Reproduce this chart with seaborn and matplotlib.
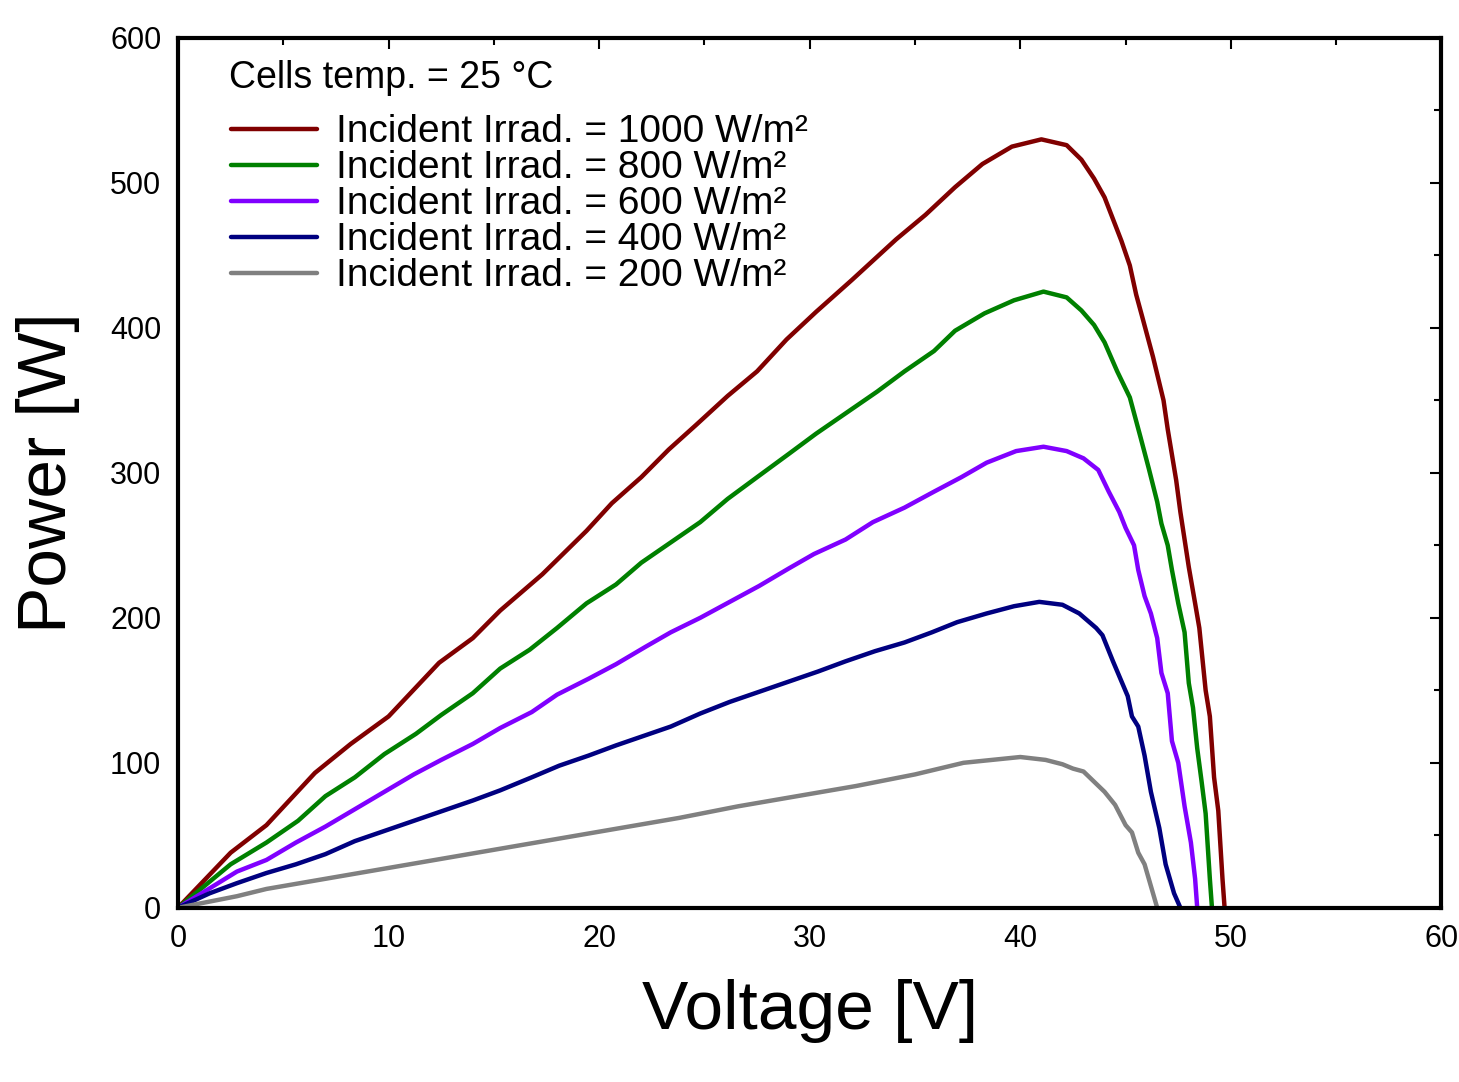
import numpy as np
import pandas as pd
import matplotlib
matplotlib.use('Agg')
from matplotlib import pyplot as plt
from matplotlib.ticker import MultipleLocator
import seaborn as sns

sns.set_style('white')
plt.rcParams['font.family'] = ['Liberation Sans', 'DejaVu Sans']
plt.rcParams['text.color'] = 'black'
plt.rcParams['axes.labelcolor'] = 'black'
plt.rcParams['xtick.color'] = 'black'
plt.rcParams['ytick.color'] = 'black'

# (voltage, power) per irradiance
v1000 = [0,2.5,4.2,6.5,8.2,10,12.4,14,15.3,17.3,19.4,20.6,22,23.3,24.6,26.1,27.5,28.9,30.3,32,34.1,35.5,36.9,38.2,39.6,41,42.2,42.9,43.5,44,44.8,45.2,45.5,45.8,46.3,46.8,47,47.4,47.6,48,48.3,48.5,48.8,49,49.2,49.4,49.6,49.7]
p1000 = [0,38,57,93,113,132,169,186,205,230,260,279,297,316,333,353,370,392,411,433,461,478,497,513,525,530,526,516,503,490,460,443,423,407,380,350,330,295,273,235,210,193,150,132,90,67,20,0]
v800 = [0,2.5,4.2,5.7,7,8.4,9.8,11.3,12.5,14,15.3,16.7,18,19.4,20.8,22,23.4,24.8,26.1,27.5,29,30.3,31.7,33.2,34.5,35.9,36.9,38.3,39.7,41.1,42.2,42.9,43.5,44,44.6,45.2,45.7,46.1,46.5,46.7,47,47.2,47.5,47.8,48,48.2,48.4,48.6,48.8,49,49.1]
p800 = [0,30,45,60,77,90,106,120,133,148,165,178,193,210,223,238,252,266,282,297,313,327,341,356,370,384,398,410,419,425,421,412,402,390,370,352,325,303,280,265,250,233,210,190,155,138,110,88,65,20,0]
v600 = [0,2.8,4.2,5.6,7,8.4,9.8,11.2,12.5,14,15.3,16.8,18,19.5,20.8,22.2,23.4,24.8,26.2,27.6,29,30.2,31.7,33,34.5,35.9,37.2,38.4,39.8,41.1,42.2,43,43.7,44.2,44.7,45,45.4,45.6,45.9,46.2,46.5,46.7,47,47.2,47.5,47.8,48.1,48.3,48.4]
p600 = [0,25,33,45,56,68,80,92,102,113,124,135,147,158,168,180,190,200,211,222,234,244,254,266,276,287,297,307,315,318,315,310,302,287,273,262,250,233,215,203,186,162,148,115,100,70,45,20,0]
v400 = [0,1.5,2.8,4.2,5.6,7,8.4,9.8,11.2,12.6,14,15.3,16.8,18.1,19.5,20.8,22.2,23.4,24.8,26.2,27.6,29,30.4,31.7,33.1,34.5,35.8,37,38.4,39.7,40.9,42,42.8,43.6,43.9,44.4,45.1,45.3,45.6,45.9,46.2,46.6,46.9,47.3,47.6]
p400 = [0,10,17,24,30,37,46,53,60,67,74,81,90,98,105,112,119,125,134,142,149,156,163,170,177,183,190,197,203,208,211,209,203,193,188,170,146,132,125,105,80,55,30,10,0]
v200 = [0,1.4,2.8,4.2,7,9.8,12.6,15.4,18.2,21,23.8,26.6,29.4,32.2,35,37.3,40,41.2,42,42.5,43,43.5,44,44.5,45,45.3,45.6,45.9,46.1,46.4,46.5]
p200 = [0,4,8,13,20,27,34,41,48,55,62,70,77,84,92,100,104,102,99,96,94,87,80,71,57,52,38,30,20,5,0]

labels = ['Incident Irrad. = 1000 W/m²', 'Incident Irrad. = 800 W/m²',
          'Incident Irrad. = 600 W/m²', 'Incident Irrad. = 400 W/m²',
          'Incident Irrad. = 200 W/m²']
colors = ['#800000', '#008000', '#8000ff', '#000080', '#808080']

fig = plt.figure(figsize=(14.59, 10.82), dpi=100)
ax = fig.add_axes([0.122, 0.161, 0.866, 0.804])

for v, p, lab, c in zip([v1000, v800, v600, v400, v200],
                        [p1000, p800, p600, p400, p200], labels, colors):
    df = pd.DataFrame({'v': v, 'p': p})
    sns.lineplot(data=df, x='v', y='p', sort=False, color=c, lw=3.2, label=lab, ax=ax)

ax.set_xlim(0, 60)
ax.set_ylim(0, 600)
ax.xaxis.set_major_locator(MultipleLocator(10))
ax.xaxis.set_minor_locator(MultipleLocator(5))
ax.yaxis.set_major_locator(MultipleLocator(100))
ax.yaxis.set_minor_locator(MultipleLocator(50))
ax.tick_params(which='both', direction='in', top=True, right=True, labelsize=22, pad=12)
ax.tick_params(which='major', length=8, width=1.5)
ax.tick_params(which='minor', length=5, width=1.5)
for s in ax.spines.values():
    s.set_linewidth(3)
    s.set_color('black')

ax.set_xlabel('Voltage [V]', fontsize=50, labelpad=18)
ax.set_ylabel('Power [W]', fontsize=50, labelpad=22)

leg = ax.legend(loc='upper left', bbox_to_anchor=(0.03, 0.93), frameon=False,
                fontsize=28, handlelength=2.2, labelspacing=0.0, borderaxespad=0,
                handletextpad=0.5)
ax.text(0.04, 0.975, 'Cells temp. = 25 °C', transform=ax.transAxes,
        fontsize=27, va='top')

plt.savefig('out.png', dpi=100)
plt.close()
